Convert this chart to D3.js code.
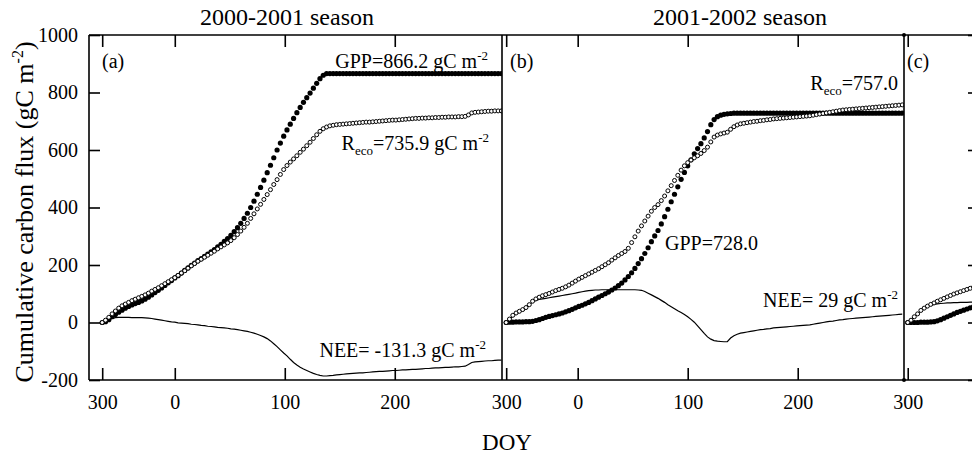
<!DOCTYPE html>
<html>
<head>
<meta charset="utf-8">
<script src="https://cdn.jsdelivr.net/npm/d3@7"></script>
<style>
  body { margin: 0; background: #fff; }
  svg { display: block; }
  text { font-family: "Liberation Serif", "Times New Roman", serif; fill: #000; }
</style>
</head>
<body>
<svg id="chart"></svg>
<script>
// days counted from Jan 1 (negative = previous autumn), one sample every 3 days
const daysA = d3.range(-66, 298, 3);
const gppA = [0,3,10,20,28,36,43,50,56,61,66,70,75,81,88,96,104,112,120,129,138,146,
  155,163,172,181,190,199,207,215,222,230,238,246,254,263,272,282,292,303,316,330,345,362,380,400,
  422,446,470,495,521,547,573,600,624,648,670,690,710,730,748,766,782,798,815,832,848,860,866,
  866,866,866,866,866,866,866,866,866,866,866,866,866,866,866,866,866,866,866,866,
  866,866,866,866,866,866,866,866,866,866,866,866,866,866,866,866,866,866,866,866,
  866,866,866,866,866,866,866,866,866,866,866,866,866];
const recoA = [0,8,18,30,40,50,58,64,70,76,81,86,91,96,102,109,115,121,128,135,142,149,
  156,164,172,180,189,197,205,213,220,227,234,241,248,256,263,270,277,285,295,306,318,331,345,362,
  378,395,411,428,445,462,480,497,515,532,546,558,569,580,592,603,615,627,640,653,665,674,680,
  684,686,688,689,690,691,692,693,694,695,696,697,697,698,699,700,701,702,703,704,
  704,705,706,707,708,709,710,710,711,711,712,712,713,713,714,714,715,715,715,716,
  716,717,722,729,731,732,733,734,735,735,736,736,736];
const neeA = [0,6,10,14,17,18,18,18,18,17,17,17,17,16,15,14,12,10,8,6,4,2,
  1,-1,-2,-3,-4,-6,-7,-8,-10,-11,-13,-14,-15,-17,-18,-19,-20,-22,-23,-25,-27,-29,-31,-34,
  -37,-41,-45,-50,-56,-64,-74,-84,-95,-106,-116,-128,-139,-148,-156,-162,-167,-172,-177,-181,-184,-186,-186,
  -185,-184,-182,-181,-180,-179,-178,-177,-176,-175,-175,-174,-173,-172,-171,-170,-170,-169,-168,-167,
  -167,-166,-165,-165,-164,-163,-163,-162,-161,-160,-160,-159,-158,-158,-157,-156,-156,-155,-154,-154,
  -153,-152,-146,-139,-137,-136,-135,-134,-133,-133,-132,-131,-131];

const daysB = d3.range(-65, 296, 3);
const gppB = [0,1,1,2,2,2,3,3,4,7,10,14,18,21,24,27,30,33,37,41,46,51,
  56,60,65,70,76,82,88,94,100,106,113,120,128,137,148,160,173,188,205,222,240,260,281,301,
  320,343,368,394,420,446,472,498,522,545,566,587,605,622,642,664,688,706,716,721,724,726,727,
  728,728,728,728,728,728,728,728,728,728,728,728,728,728,728,728,728,728,728,728,
  728,728,728,728,728,728,728,728,728,728,728,728,728,728,728,728,728,728,728,728,
  728,728,728,728,728,728,728,728,728,728,728,728];
const recoB = [0,12,25,33,39,45,52,62,74,82,88,93,97,101,106,111,115,119,124,130,137,144,
  151,157,163,169,175,181,187,194,201,208,217,225,233,240,247,258,278,298,318,336,353,370,387,400,
  410,424,440,458,476,494,512,530,545,556,565,573,580,588,598,610,628,645,652,656,659,662,672,
  681,687,691,693,695,697,699,700,702,703,705,706,708,709,710,711,712,713,714,715,
  716,717,718,719,721,723,725,727,729,731,733,735,737,739,740,741,742,743,744,745,
  746,747,748,749,750,751,752,753,754,755,756,757];
const neeB = [0,10,22,30,36,42,49,62,72,77,80,82,84,86,88,90,92,94,96,98,100,102,
  105,107,109,111,112,113,113,114,114,114,114,114,114,114,114,114,114,114,113,112,108,102,96,90,
  84,77,70,62,55,48,41,35,28,20,11,1,-12,-25,-38,-50,-58,-63,-65,-66,-67,-67,-54,
  -46,-41,-37,-35,-33,-31,-29,-27,-25,-24,-22,-21,-19,-18,-17,-16,-15,-14,-13,-12,
  -11,-10,-9,-8,-6,-4,-2,0,2,4,5,7,9,10,12,13,14,15,16,17,
  18,19,20,21,22,23,24,25,26,27,28,29];

const daysC = d3.range(-65, -4, 3);
const gppC = [0,0,0,0,1,1,1,2,3,6,10,15,20,25,30,35,39,43,47,51,55];
const recoC = [0,8,20,30,42,50,57,63,68,74,79,84,89,94,99,103,107,111,115,119,123];
const neeC = [0,8,20,30,40,48,55,60,63,65,66,67,68,68,69,69,70,70,70,71,71];

const yTicks = [-200, 0, 200, 400, 600, 800, 1000];

const W = 972, H = 456;
const yTop = 35, yBot = 380;
const svg = d3.select('#chart').attr('width', W).attr('height', H);
const y = d3.scaleLinear().domain([-200, 1000]).range([yBot, yTop]);

const panels = [
  {id: 'a', x0: 89, x1: 502, dom: [-78, 297.5], days: daysA, gpp: gppA, reco: recoA, nee: neeA,
   ticks: [-66, 0, 100, 200], labels: ['300', '0', '100', '200']},
  {id: 'b', x0: 502, x1: 904, dom: [-68.8, 296.6], days: daysB, gpp: gppB, reco: recoB, nee: neeB,
   ticks: [-65, 0, 100, 200], labels: ['300', '0', '100', '200']},
  {id: 'c', x0: 904, x1: 979, dom: [-68.4, 0], days: daysC, gpp: gppC, reco: recoC, nee: neeC,
   ticks: [-65], labels: ['300']}
];

panels.forEach(p => {
  const x = d3.scaleLinear().domain(p.dom).range([p.x0, p.x1]);

  svg.append('clipPath').attr('id', 'clip-' + p.id)
    .append('rect').attr('x', p.x0).attr('y', yTop).attr('width', p.x1 - p.x0).attr('height', yBot - yTop);

  const g = svg.append('g').attr('clip-path', `url(#clip-${p.id})`);

  // NEE as thin line
  const line = d3.line().x((d, i) => x(p.days[i])).y(d => y(d));
  g.append('path').datum(p.nee)
    .attr('d', line).attr('fill', 'none').attr('stroke', '#000').attr('stroke-width', 1.2);

  // GPP filled dots
  g.selectAll('circle.gpp').data(p.gpp).join('circle').attr('class', 'gpp')
    .attr('cx', (d, i) => x(p.days[i])).attr('cy', d => y(d))
    .attr('r', 2.6).attr('fill', '#000');

  // Reco open dots
  g.selectAll('circle.reco').data(p.reco).join('circle').attr('class', 'reco')
    .attr('cx', (d, i) => x(p.days[i])).attr('cy', d => y(d))
    .attr('r', 2).attr('fill', '#fff').attr('stroke', '#000').attr('stroke-width', 1);

  // bottom ticks + labels
  const bx = svg.append('g').attr('transform', `translate(0,${yBot})`)
    .call(d3.axisBottom(x).tickValues(p.ticks).tickFormat((d, i) => p.labels[i])
      .tickSizeInner(-12).tickSizeOuter(0).tickPadding(15));
  bx.select('.domain').remove();
  bx.selectAll('line').attr('stroke-width', 1.6);
  bx.selectAll('text').attr('font-size', 20).attr('font-family', '"Liberation Serif", serif');

  // top ticks
  const tx = svg.append('g').attr('transform', `translate(0,${yTop})`)
    .call(d3.axisTop(x).tickValues(p.ticks).tickFormat('').tickSizeInner(-12).tickSizeOuter(0));
  tx.select('.domain').remove();
  tx.selectAll('line').attr('stroke-width', 1.6);
});

// left axis of panel (a)
const ly = svg.append('g').attr('transform', 'translate(89,0)')
  .call(d3.axisLeft(y).tickValues(yTicks).tickFormat(d => String(d))
    .tickSizeInner(-11).tickSizeOuter(0).tickPadding(11));
ly.select('.domain').remove();
ly.selectAll('line').attr('stroke-width', 1.6);
ly.selectAll('text').attr('font-size', 20).attr('font-family', '"Liberation Serif", serif');

// right axis of panel (c)
const ry = svg.append('g').attr('transform', 'translate(979,0)')
  .call(d3.axisRight(y).tickValues(yTicks).tickFormat('').tickSizeInner(-11).tickSizeOuter(0));
ry.select('.domain').remove();
ry.selectAll('line').attr('stroke-width', 1.6);

// frame
const frame = svg.append('g').attr('stroke', '#000').attr('stroke-width', 1.6);
frame.append('line').attr('x1', 89).attr('x2', W).attr('y1', yTop).attr('y2', yTop);
frame.append('line').attr('x1', 89).attr('x2', W).attr('y1', yBot).attr('y2', yBot);
[89, 502, 904, 979].forEach(xv => {
  frame.append('line').attr('x1', xv).attr('x2', xv).attr('y1', yTop).attr('y2', yBot);
});
svg.append('circle').attr('cx', 904).attr('cy', yTop).attr('r', 2).attr('fill', '#000');
svg.append('circle').attr('cx', 904).attr('cy', yBot).attr('r', 2).attr('fill', '#000');

// titles and axis labels
svg.append('text').attr('x', 287).attr('y', 25).attr('text-anchor', 'middle')
  .attr('font-size', 24).text('2000-2001 season');
svg.append('text').attr('x', 740).attr('y', 25).attr('text-anchor', 'middle')
  .attr('font-size', 24).text('2001-2002 season');
svg.append('text').attr('x', 507).attr('y', 450).attr('text-anchor', 'middle')
  .attr('font-size', 23).text('DOY');

const yl = svg.append('text').attr('transform', 'translate(33,212) rotate(-90)')
  .attr('text-anchor', 'middle').attr('font-size', 26);
yl.append('tspan').text('Cumulative carbon flux (gC m');
yl.append('tspan').attr('font-size', 16).attr('dy', -10).text('-2');
yl.append('tspan').attr('dy', 10).text(')');

// panel letters
[['(a)', 102], ['(b)', 510], ['(c)', 907]].forEach(([t, xv]) => {
  svg.append('text').attr('x', xv).attr('y', 68).attr('font-size', 20).text(t);
});

// annotations
function note(xv, yv, anchor, parts) {
  const t = svg.append('text').attr('x', xv).attr('y', yv).attr('text-anchor', anchor).attr('font-size', 20);
  parts.forEach(([s, kind]) => {
    const sp = t.append('tspan').text(s);
    if (kind === 'sup') sp.attr('font-size', 13).attr('dy', -8);
    if (kind === 'sub') sp.attr('font-size', 13).attr('dy', 5);
    if (kind === 'upFromSub') sp.attr('dy', -5);
  });
}
note(488, 68, 'end', [['GPP=866.2 gC m'], ['-2', 'sup']]);
note(489, 150, 'end', [['R'], ['eco', 'sub'], ['=735.9 gC m', 'upFromSub'], ['-2', 'sup']]);
note(486, 357, 'end', [['NEE= -131.3 gC m'], ['-2', 'sup']]);
note(898, 90, 'end', [['R'], ['eco', 'sub'], ['=757.0', 'upFromSub']]);
note(665, 250, 'start', [['GPP=728.0']]);
note(898, 307, 'end', [['NEE= 29 gC m'], ['-2', 'sup']]);
</script>
</body>
</html>
